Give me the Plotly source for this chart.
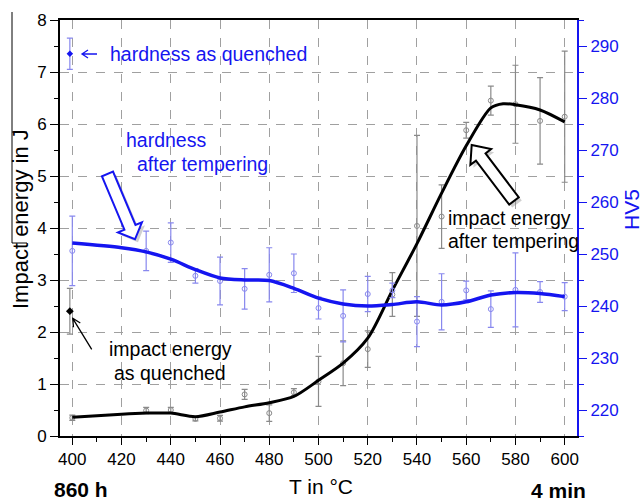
import plotly.graph_objects as go

# ---- data -------------------------------------------------------------
# fitted curves (tempering temperature in °C)
T_curve = [400, 410, 420, 430, 440, 450, 460, 470, 480, 490, 500, 510,
           520, 530, 540, 550, 560, 570, 575, 580, 590, 600]
energy_curve = [0.36, 0.39, 0.42, 0.44, 0.44, 0.37, 0.46, 0.56, 0.64, 0.76,
                1.07, 1.40, 1.88, 2.80, 3.70, 4.67, 5.58, 6.31, 6.39, 6.37,
                6.27, 6.04]
T_hv_curve = [400, 420, 430, 440, 450, 460, 470, 480, 490, 500, 510, 520,
              530, 540, 550, 560, 570, 580, 590, 600]
hv_curve = [252.1, 251.2, 250.4, 249.0, 247.0, 245.4, 245.0, 244.9, 243.4,
            241.5, 240.4, 240.0, 240.3, 240.8, 240.2, 240.8, 242.1, 242.6,
            242.4, 241.8]

# measured points with scatter
T_pts = [400, 430, 440, 450, 460, 470, 480, 490, 500, 510, 520, 530, 540,
         550, 560, 570, 580, 590, 600]
energy_pts = [0.35, 0.49, 0.50, 0.33, 0.34, 0.80, 0.44, 0.84, 1.05, 1.40,
              1.67, 2.72, 4.04, 4.22, 5.88, 6.45, 6.38, 6.06, 6.14]
energy_err = [0.05, 0.06, 0.05, 0.04, 0.055, 0.095, 0.16, 0.07, 0.48, 0.43,
              0.35, 0.42, 1.74, 0.61, 0.15, 0.28, 0.75, 0.83, 1.26]
hv_pts = [250.6, 250.6, 252.2, 245.8, 244.8, 243.3, 246.0, 246.3, 239.6,
          238.1, 242.3, 243.0, 237.0, 240.8, 243.0, 239.4, 243.1, 242.7,
          241.8]
hv_err = [6.7, 3.8, 3.8, 1.4, 4.6, 3.9, 5.2, 3.7, 2.1, 5.0, 3.4, 1.4, 4.8,
          5.4, 1.8, 3.5, 7.1, 2.0, 2.7]

# as-quenched state
T_quenched = [399]
energy_quenched = [2.40]
energy_quenched_err = [0.44]
hv_quenched = [288.5]
hv_quenched_err = [3.0]

# ---- styling ----------------------------------------------------------
BLUE = "#1515f0"
LIGHT_BLUE = "#8888ee"
GRAY = "#8a8a8a"
FONT = "Arial, Liberation Sans, sans-serif"

# plot-area geometry in pixels, used to place decorations
L, R, T, B = 60, 577, 20, 436
W, H = R - L, B - T


def pp(x, y):
    """pixel position -> paper coordinates"""
    return (x - L) / W, (B - y) / H


def path_from(points):
    parts = []
    for i, (x, y) in enumerate(points):
        u, v = pp(x, y)
        parts.append(("M" if i == 0 else "L") + f"{u:.5f},{v:.5f}")
    return " ".join(parts) + " Z"


def hollow_arrow(tail, tip, shaft_hw, head_hw, head_len, dx=0.0, dy=0.0):
    tx, ty = tail[0] + dx, tail[1] + dy
    hx, hy = tip[0] + dx, tip[1] + dy
    lx, ly = hx - tx, hy - ty
    n = (lx ** 2 + ly ** 2) ** 0.5
    ux, uy = lx / n, ly / n
    nx, ny = -uy, ux
    bx, by = hx - ux * head_len, hy - uy * head_len
    pts = [
        (tx + nx * shaft_hw, ty + ny * shaft_hw),
        (bx + nx * shaft_hw, by + ny * shaft_hw),
        (bx + nx * head_hw, by + ny * head_hw),
        (hx, hy),
        (bx - nx * head_hw, by - ny * head_hw),
        (bx - nx * shaft_hw, by - ny * shaft_hw),
        (tx - nx * shaft_hw, ty - ny * shaft_hw),
    ]
    return path_from(pts)


def thin_arrow(tail, tip, head_len=8, head_hw=4):
    lx, ly = tip[0] - tail[0], tip[1] - tail[1]
    n = (lx ** 2 + ly ** 2) ** 0.5
    ux, uy = lx / n, ly / n
    nx, ny = -uy, ux
    bx, by = tip[0] - ux * head_len, tip[1] - uy * head_len
    a = pp(*tail)
    b = pp(*tip)
    c = pp(bx + nx * head_hw, by + ny * head_hw)
    d = pp(bx - nx * head_hw, by - ny * head_hw)
    return (f"M{a[0]:.5f},{a[1]:.5f} L{b[0]:.5f},{b[1]:.5f} "
            f"M{c[0]:.5f},{c[1]:.5f} L{b[0]:.5f},{b[1]:.5f} "
            f"L{d[0]:.5f},{d[1]:.5f}")


fig = go.Figure()

# impact energy: measured points with error bars
fig.add_trace(go.Scatter(
    x=T_pts, y=energy_pts, mode="markers",
    marker=dict(symbol="circle-open", size=5, color=GRAY,
                line=dict(width=1, color=GRAY)),
    error_y=dict(type="data", array=energy_err, color=GRAY, thickness=1.2,
                 width=3),
    yaxis="y", hoverinfo="skip"))

# impact energy: fitted curve
fig.add_trace(go.Scatter(
    x=T_curve, y=energy_curve, mode="lines",
    line=dict(color="black", width=3, shape="spline", smoothing=0.8),
    yaxis="y"))

# impact energy as quenched
fig.add_trace(go.Scatter(
    x=T_quenched, y=energy_quenched, mode="markers",
    marker=dict(symbol="diamond", size=6, color="black"),
    error_y=dict(type="data", array=energy_quenched_err, color=GRAY,
                 thickness=1.2, width=3),
    yaxis="y"))

# hardness: measured points with error bars
fig.add_trace(go.Scatter(
    x=T_pts, y=hv_pts, mode="markers",
    marker=dict(symbol="circle-open", size=5, color=LIGHT_BLUE,
                line=dict(width=1, color=LIGHT_BLUE)),
    error_y=dict(type="data", array=hv_err, color=LIGHT_BLUE, thickness=1.2,
                 width=3),
    yaxis="y2", hoverinfo="skip"))

# hardness: fitted curve
fig.add_trace(go.Scatter(
    x=T_hv_curve, y=hv_curve, mode="lines",
    line=dict(color=BLUE, width=3.5, shape="spline", smoothing=0.8),
    yaxis="y2"))

# hardness as quenched
fig.add_trace(go.Scatter(
    x=T_quenched, y=hv_quenched, mode="markers",
    marker=dict(symbol="diamond", size=5, color=BLUE),
    error_y=dict(type="data", array=hv_quenched_err, color=LIGHT_BLUE,
                 thickness=1.2, width=3),
    yaxis="y2"))

tickfont = dict(family=FONT, size=17, color="black")

fig.update_layout(
    width=642, height=501,
    margin=dict(l=L, r=642 - R, t=T, b=501 - B),
    plot_bgcolor="white", paper_bgcolor="white",
    showlegend=False,
    font=dict(family=FONT),
    xaxis=dict(
        range=[395, 605], tick0=400, dtick=20,
        showline=True, linecolor="black", linewidth=2, mirror=True,
        ticks="outside", ticklen=7, tickwidth=1.2, tickcolor="black",
        tickfont=tickfont,
        showgrid=True, gridcolor="#a0a0a0", gridwidth=1, griddash="dash",
        minor=dict(dtick=10, tick0=400, ticks="outside", ticklen=4,
                   tickcolor="black", showgrid=False),
        zeroline=False),
    yaxis=dict(
        range=[0, 8], tick0=0, dtick=1,
        showline=True, linecolor="black", linewidth=2,
        ticks="outside", ticklen=8, tickwidth=1.2, tickcolor="black",
        tickfont=tickfont,
        showgrid=True, gridcolor="#a0a0a0", gridwidth=1, griddash="dash",
        minor=dict(dtick=0.5, tick0=0, ticks="outside", ticklen=4,
                   tickcolor="black", showgrid=False),
        zeroline=False),
    yaxis2=dict(
        range=[215, 295], tick0=220, dtick=10,
        overlaying="y", side="right", anchor="x",
        showline=True, linecolor=BLUE, linewidth=2,
        ticks="outside", ticklen=8, tickwidth=1.2, tickcolor=BLUE,
        tickfont=dict(family=FONT, size=17, color=BLUE),
        showgrid=False,
        minor=dict(dtick=5, tick0=215, ticks="outside", ticklen=5,
                   tickcolor=BLUE, showgrid=False),
        zeroline=False),
)

annotations = []


def text_at(x, y, s, size=19.5, color="black", xanchor="left", angle=0,
            bold=False):
    u, v = pp(x, y)
    annotations.append(dict(
        x=u, y=v, xref="paper", yref="paper", text=(f"<b>{s}</b>" if bold else s),
        showarrow=False, xanchor=xanchor, yanchor="middle", textangle=angle,
        font=dict(family=FONT, size=size, color=color)))


text_at(108, 54, "hardness as quenched", color=BLUE)
text_at(124, 140, "hardness", color=BLUE)
text_at(135, 164, "after tempering", color=BLUE)
text_at(446, 218, "impact energy")
text_at(446, 241, "after tempering")
text_at(107, 349, "impact energy")
text_at(112, 373, "as quenched")

# axis titles and corner labels
text_at(321, 487, "T in °C", size=21, xanchor="center")
text_at(20, 219, "Impact energy in J", size=22, xanchor="center", angle=-90)
text_at(631, 210, "HV5", size=21, color=BLUE, xanchor="center", angle=-90)
text_at(81, 489, "860 h", size=21, xanchor="center", bold=True)
text_at(558, 490, "4 min", size=21, xanchor="center", bold=True)

fig.update_layout(annotations=annotations)

shapes = []
# shadows of the hollow arrows
shapes.append(dict(type="path", xref="paper", yref="paper",
                   path=hollow_arrow((107.5, 174), (135, 239.3), 6, 13, 13,
                                     dx=3, dy=3),
                   fillcolor="rgba(120,120,120,0.35)", line=dict(width=0)))
shapes.append(dict(type="path", xref="paper", yref="paper",
                   path=hollow_arrow((514, 201), (471.7, 145), 6, 13, 15,
                                     dx=3, dy=3),
                   fillcolor="rgba(120,120,120,0.35)", line=dict(width=0)))
# hollow arrows
shapes.append(dict(type="path", xref="paper", yref="paper",
                   path=hollow_arrow((107.5, 174), (135, 239.3), 6, 13, 13),
                   fillcolor="white", line=dict(color=BLUE, width=2)))
shapes.append(dict(type="path", xref="paper", yref="paper",
                   path=hollow_arrow((514, 201), (471.7, 145), 6, 13, 15),
                   fillcolor="white", line=dict(color="black", width=2)))
# thin pointer arrows
shapes.append(dict(type="path", xref="paper", yref="paper",
                   path=thin_arrow((97, 54), (82, 54), head_len=6, head_hw=4),
                   line=dict(color=BLUE, width=1.3)))
shapes.append(dict(type="path", xref="paper", yref="paper",
                   path=thin_arrow((91.7, 349.3), (72.7, 318.3), head_len=8,
                                   head_hw=4),
                   line=dict(color="black", width=1.3)))
# bracket line at the left page edge
for (x0, y0, x1, y1) in [(12, 12, 12, 243), (12, 132, 27, 132),
                         (12, 243, 27, 243)]:
    a, b = pp(x0, y0)
    c, d = pp(x1, y1)
    shapes.append(dict(type="line", xref="paper", yref="paper",
                       x0=a, y0=b, x1=c, y1=d,
                       line=dict(color="black", width=1)))

fig.update_layout(shapes=shapes)

fig.write_html("out.html")
